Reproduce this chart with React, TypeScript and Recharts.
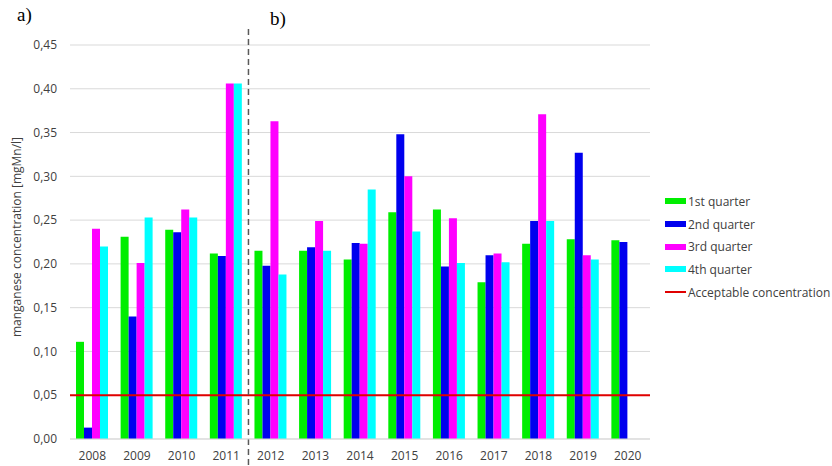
import React from "react";
import {
  BarChart,
  Bar,
  XAxis,
  YAxis,
  CartesianGrid,
  ReferenceLine,
} from "recharts";

const years = ["2008", "2009", "2010", "2011", "2012", "2013", "2014", "2015", "2016", "2017", "2018", "2019", "2020"];
const quarter1 = [0.111, 0.231, 0.239, 0.212, 0.215, 0.215, 0.205, 0.259, 0.262, 0.179, 0.223, 0.228, 0.227];
const quarter2 = [0.013, 0.14, 0.236, 0.209, 0.198, 0.219, 0.224, 0.348, 0.197, 0.21, 0.249, 0.327, 0.225];
const quarter3 = [0.24, 0.201, 0.262, 0.406, 0.363, 0.249, 0.223, 0.3, 0.252, 0.212, 0.371, 0.21, null];
const quarter4 = [0.22, 0.253, 0.253, 0.406, 0.188, 0.215, 0.285, 0.237, 0.201, 0.202, 0.249, 0.205, null];
const yTicks = [0, 0.05, 0.1, 0.15, 0.2, 0.25, 0.3, 0.35, 0.4, 0.45];

// limit value for manganese in drinking water
const acceptableConcentration = 0.05;
// last year of period a)
const periodSplitYear = "2011";

const series = [
  { key: "q1", name: "1st quarter", color: "#00ee00", values: quarter1 },
  { key: "q2", name: "2nd quarter", color: "#0000ee", values: quarter2 },
  { key: "q3", name: "3rd quarter", color: "#ff00ff", values: quarter3 },
  { key: "q4", name: "4th quarter", color: "#00ffff", values: quarter4 },
];

const data = years.map((year, i) => {
  const row: { [key: string]: string | number | null } = { year };
  series.forEach((s) => {
    row[s.key] = s.values[i];
  });
  return row;
});

const FONT = "'Open Sans', sans-serif";
const TEXT_COLOR = "#404040";
const LIMIT_COLOR = "#e00000";

const formatTick = (v: number) => v.toFixed(2).replace(".", ",");

// dashed divider that runs past the plot area, from above the top grid line to the page bottom
const DividerLine = (props: any) => {
  const top = Math.min(props.y1, props.y2);
  const bottom = Math.max(props.y1, props.y2);
  return (
    <line
      x1={props.x1}
      x2={props.x2}
      y1={top - 16}
      y2={bottom + 27}
      stroke="#5a5a5a"
      strokeWidth={1.5}
      strokeDasharray="6 4"
    />
  );
};

// rotated axis title, a little above the middle of the plot
const YAxisTitle = ({ viewBox }: any) => {
  const cx = viewBox.x + 16.5;
  const cy = viewBox.y + viewBox.height / 2 - 5;
  return (
    <text
      x={cx}
      y={cy}
      transform={`rotate(-90 ${cx} ${cy})`}
      textAnchor="middle"
      dominantBaseline="central"
      fontSize={12}
      fontFamily={FONT}
      fill={TEXT_COLOR}
    >
      manganese concentration [mgMn/l]
    </text>
  );
};

const LegendBox = () => (
  <div
    style={{
      position: "absolute",
      left: 665,
      top: 190,
      fontFamily: FONT,
      fontSize: 12,
      color: TEXT_COLOR,
    }}
  >
    {series.map((s) => (
      <div key={s.key} style={{ display: "flex", alignItems: "center", height: 22.7 }}>
        <span style={{ display: "inline-block", width: 21, height: 6, background: s.color, marginRight: 2 }} />
        {s.name}
      </div>
    ))}
    <div style={{ display: "flex", alignItems: "center", height: 22.7 }}>
      <span style={{ display: "inline-block", width: 21, height: 2, background: LIMIT_COLOR, marginRight: 2 }} />
      Acceptable concentration
    </div>
  </div>
);

export default function App() {
  return (
    <div style={{ position: "absolute", left: 0, top: 0, width: 832, height: 466, background: "#fff", overflow: "hidden" }}>
      <div style={{ position: "absolute", left: 17, top: 4, fontFamily: "'Liberation Serif', serif", fontSize: 19 }}>a)</div>
      <div style={{ position: "absolute", left: 270, top: 8, fontFamily: "'Liberation Serif', serif", fontSize: 19 }}>b)</div>
      <BarChart
        width={832}
        height={466}
        data={data}
        margin={{ top: 45, right: 182, left: 0, bottom: 1 }}
        barGap={0}
        barSize={8}
      >
        <CartesianGrid vertical={false} stroke="#d9d9d9" />
        <XAxis
          dataKey="year"
          height={26}
          tickLine={false}
          axisLine={{ stroke: "#d9d9d9" }}
          tickMargin={6}
          tick={{ fontSize: 12, fontFamily: FONT, fill: TEXT_COLOR }}
          interval={0}
        />
        <YAxis
          width={70}
          domain={[0, 0.45]}
          ticks={yTicks}
          tickFormatter={formatTick}
          axisLine={false}
          tickLine={false}
          tickMargin={7}
          tick={{ fontSize: 12, fontFamily: FONT, fill: TEXT_COLOR }}
          label={{ content: YAxisTitle }}
        />
        {series.map((s) => (
          <Bar key={s.key} dataKey={s.key} name={s.name} fill={s.color} isAnimationActive={false} />
        ))}
        <ReferenceLine y={acceptableConcentration} stroke={LIMIT_COLOR} strokeWidth={2} />
        <ReferenceLine x={periodSplitYear} position="end" shape={DividerLine} />
      </BarChart>
      <LegendBox />
    </div>
  );
}
